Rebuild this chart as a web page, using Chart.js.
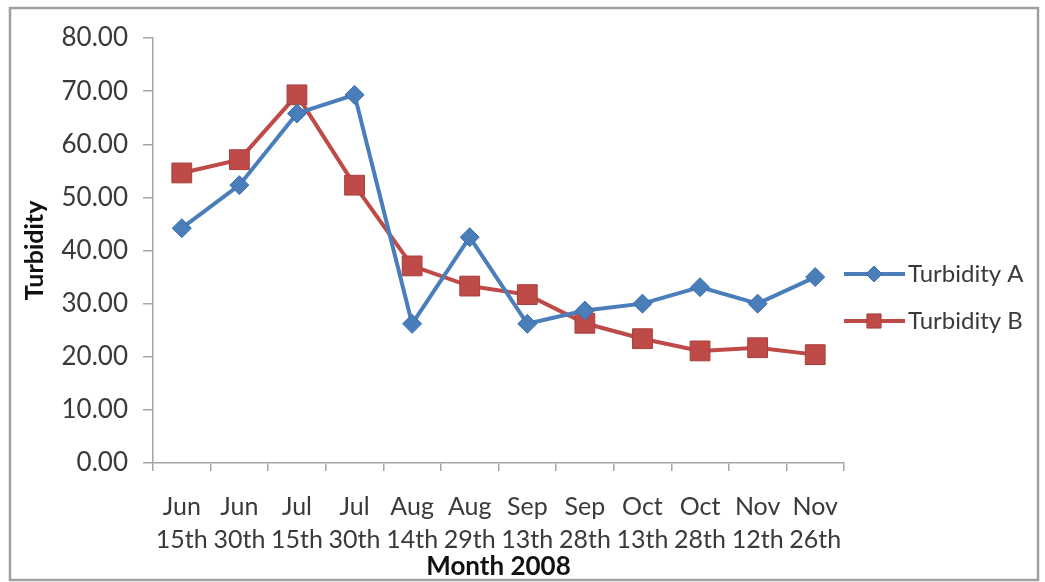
<!DOCTYPE html>
<html>
<head>
<meta charset="utf-8">
<script src="https://cdn.jsdelivr.net/npm/chart.js@4/dist/chart.umd.min.js"></script>
<style>
  html, body { margin: 0; padding: 0; background: #ffffff; }
  #wrap { width: 1045px; height: 582px; position: relative; }
</style>
</head>
<body>
<div id="wrap"><canvas id="chart" width="1045" height="582"></canvas></div>
<script>
// Sampling dates (two-line category labels)
const categories = [
  ['Jun', '15th'], ['Jun', '30th'], ['Jul', '15th'], ['Jul', '30th'],
  ['Aug', '14th'], ['Aug', '29th'], ['Sep', '13th'], ['Sep', '28th'],
  ['Oct', '13th'], ['Oct', '28th'], ['Nov', '12th'], ['Nov', '26th']
];

// Turbidity readings
const turbidityA = [44.2, 52.3, 65.8, 69.3, 26.2, 42.5, 26.2, 28.7, 30.0, 33.1, 30.0, 35.0];
const turbidityB = [54.6, 57.1, 69.3, 52.3, 37.1, 33.3, 31.7, 26.3, 23.4, 21.1, 21.7, 20.4];

// Value axis range
const yMin = 0;
const yMax = 80;
const yStep = 10;

const FONT = 'Lato, "Open Sans", sans-serif';
const TEXT = '#3a3a3a';
const AXIS = '#a6a6a6';

// Frame around the whole chart and a side legend with line + marker samples
const framePlugin = {
  id: 'frame',
  beforeDraw(chart) {
    const ctx = chart.ctx;
    ctx.save();
    ctx.fillStyle = '#ffffff';
    ctx.fillRect(0, 0, chart.width, chart.height);
    ctx.strokeStyle = '#a0a0a0';
    ctx.lineWidth = 2.5;
    ctx.strokeRect(10, 8, 1028, 572);
    ctx.restore();
  },
  afterDraw(chart) {
    const ctx = chart.ctx;
    const rows = [274, 321];
    chart.data.datasets.forEach((ds, i) => {
      const y = rows[i];
      ctx.save();
      ctx.strokeStyle = ds.borderColor;
      ctx.lineWidth = 4;
      ctx.beginPath();
      ctx.moveTo(844, y);
      ctx.lineTo(905, y);
      ctx.stroke();
      ctx.fillStyle = ds.pointBackgroundColor;
      ctx.strokeStyle = ds.pointBorderColor;
      ctx.lineWidth = 1;
      Chart.helpers.drawPoint(ctx, {
        pointStyle: ds.pointStyle,
        radius: ds.legendRadius,
        rotation: 0,
        borderWidth: 1
      }, 874, y);
      ctx.fillStyle = TEXT;
      ctx.font = '24px ' + FONT;
      ctx.textAlign = 'left';
      ctx.textBaseline = 'middle';
      ctx.fillText(ds.label, 908, y);
      ctx.restore();
    });
  }
};

new Chart(document.getElementById('chart'), {
  type: 'line',
  data: {
    labels: categories,
    datasets: [
      {
        label: 'Turbidity A',
        data: turbidityA,
        borderColor: '#4a7ebb',
        backgroundColor: '#4a7ebb',
        pointBackgroundColor: '#4a7ebb',
        pointBorderColor: '#3d6fae',
        pointStyle: 'rectRot',
        pointRadius: 9.5,
        legendRadius: 8,
        pointBorderWidth: 1,
        borderWidth: 4,
        tension: 0,
        fill: false
      },
      {
        label: 'Turbidity B',
        data: turbidityB,
        borderColor: '#be4b48',
        backgroundColor: '#be4b48',
        pointBackgroundColor: '#be4b48',
        pointBorderColor: '#a83f3c',
        pointStyle: 'rect',
        pointRadius: 14,
        legendRadius: 10,
        pointBorderWidth: 1,
        borderWidth: 4,
        tension: 0,
        fill: false
      }
    ]
  },
  options: {
    responsive: false,
    animation: false,
    devicePixelRatio: 1,
    layout: { padding: { left: 14, top: 38, right: 201, bottom: 0 } },
    plugins: {
      legend: { display: false },
      tooltip: { enabled: false }
    },
    scales: {
      x: {
        type: 'category',
        offset: true,
        afterFit(scale) { scale.height = 582 - 463; },
        grid: {
          display: true,
          offset: true,
          drawOnChartArea: false,
          drawTicks: true,
          tickLength: 8,
          color: AXIS,
          lineWidth: 1.5
        },
        border: { display: true, color: AXIS, width: 1.5 },
        ticks: {
          color: TEXT,
          font: { family: FONT, size: 25, lineHeight: 1.3 },
          padding: 20,
          maxRotation: 0,
          autoSkip: false
        },
        title: {
          display: true,
          text: 'Month 2008',
          color: '#111111',
          font: { family: FONT, size: 26, weight: 'bold' },
          padding: { top: 0, bottom: 0 }
        }
      },
      y: {
        min: yMin,
        max: yMax,
        afterFit(scale) { scale.width = 153 - 14; },
        grid: {
          display: true,
          drawOnChartArea: false,
          drawTicks: true,
          tickLength: 10,
          color: AXIS,
          lineWidth: 1.5
        },
        border: { display: true, color: AXIS, width: 1.5 },
        ticks: {
          stepSize: yStep,
          color: TEXT,
          font: { family: FONT, size: 26 },
          padding: 15,
          callback: (v) => Number(v).toFixed(2)
        },
        title: {
          display: true,
          text: 'Turbidity',
          color: '#111111',
          font: { family: FONT, size: 25, weight: 'bold' },
          padding: { top: 6, bottom: 0 }
        }
      }
    }
  },
  plugins: [framePlugin]
});
</script>
</body>
</html>
